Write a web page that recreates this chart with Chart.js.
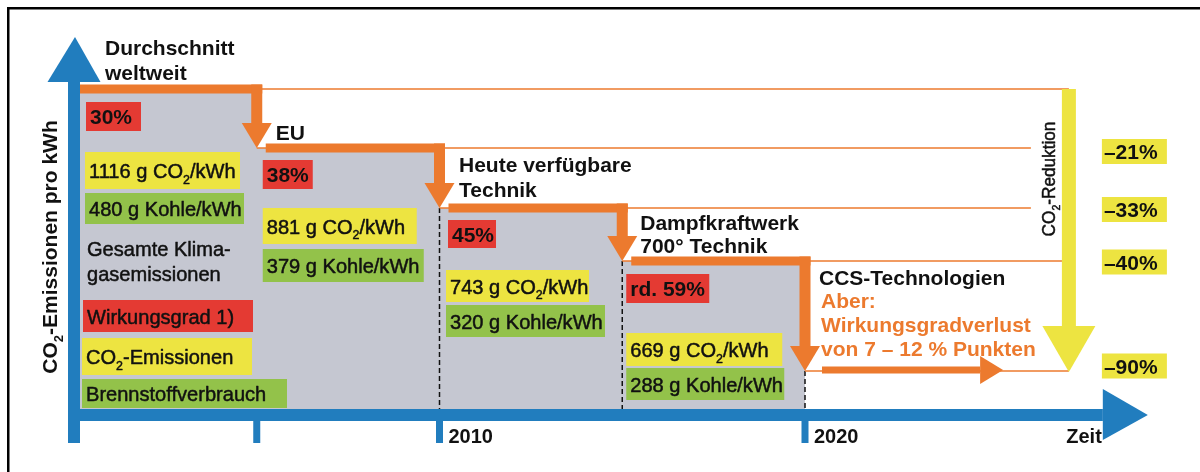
<!DOCTYPE html>
<html><head><meta charset="utf-8">
<script src="https://cdn.jsdelivr.net/npm/chart.js@4.4.1/dist/chart.umd.min.js"></script>
<style>html,body{margin:0;padding:0;background:#fff}#wrap{width:1200px;height:472px;position:relative}</style>
</head><body><div id="wrap"><canvas id="c"></canvas></div>
<script>
// ---------------- DATA ----------------
const stufenTitel   = [['Durchschnitt','weltweit'], ['EU'], ['Heute verfügbare','Technik'], ['Dampfkraftwerk','700° Technik'], ['CCS-Technologien']];
const stufenJahr    = [2000, 2005, 2010, 2015, 2020];          // start of each step on the time axis
const stufenNiveau  = [326, 267, 207, 154, 44];                // schematic height of each step (emission level)
const wirkungsgrad  = ['30%', '38%', '45%', 'rd. 59%'];
const co2ProKWh     = [1116, 881, 743, 669];                   // g CO2 / kWh
const kohleProKWh   = [480, 379, 320, 288];                    // g Kohle / kWh
const reduktion     = ['–21%', '–33%', '–40%', '–90%'];        // vs. world average (steps 2..5)
const ccsHinweis    = ['Aber:', 'Wirkungsgradverlust', 'von 7 – 12 % Punkten'];
const legende       = ['Wirkungsgrad 1)', 'CO_2-Emissionen', 'Brennstoffverbrauch'];
const klimaText     = ['Gesamte Klima-', 'gasemissionen'];
const achsenLabels  = ['2010', '2020'];
const achsenJahre   = [2010, 2020];
const tickJahre     = [2005, 2010, 2020];
const yTitel        = 'CO_2-Emissionen pro kWh';
const reduktionTitel= 'CO_2-Reduktion';
const xTitel        = 'Zeit';
const reduktionJahr = 2027.22;   // position of the yellow reduction arrow on the time axis
const ccsPfeilEnde  = 2025.42;   // end of the CCS arrow
const achsenEnde    = 2029.38;   // tip of the time axis

// ---------------- STYLES / LAYOUT ----------------
const C = { gray:'#C5C7D1', orange:'#EC7A2E', blue:'#217DBE', red:'#E43A33', yellow:'#EDE441', green:'#93C24A', text:'#111' };
const FONT = '"Liberation Sans", Arial, Helvetica, sans-serif';
const L = {
  titel: [{dx:31,dy:[-34,-9]},{dx:19,dy:[-8]},{dx:19.5,dy:[-36,-11]},{dx:18,dy:[-31,-8]},{dx:14,dy:[-86]}],
  wg:    [{dx:12,dy:13,w:55,h:29},{dx:6,dy:12,w:50,h:29},{dx:8.5,dy:12,w:48,h:28},{dx:4,dy:13,w:83,h:29}],
  co2:   [{dx:11,dy:63,w:155,h:37},{dx:6,dy:60,w:154,h:36},{dx:6.5,dy:62,w:143,h:32},{dx:4,dy:72,w:156,h:33}],
  kohle: [{dx:11,dy:104,w:159,h:31},{dx:6,dy:101,w:161,h:33},{dx:6.5,dy:97,w:159,h:32},{dx:4,dy:107,w:158,h:32}],
  legende: [{dx:9,dy:211,w:170,h:32},{dx:8,dy:249,w:170,h:37},{dx:8,dy:290,w:205,h:29}],
  klima: {dx:13, dy:[167,192]},
  hinweis: {dx:16, dy:[-63,-39,-15]},
  red: {dx:33, w:65, h:25, dy:[3.5,1.5,1,-5]}
};

function richParts(str){
  const parts=[]; const a=str.split('_2');
  a.forEach((s,i)=>{ if(s) parts.push({t:s,sub:false}); if(i<a.length-1) parts.push({t:'2',sub:true}); });
  return parts;
}
function drawRich(ctx,str,x,y,size,weight,color,align){
  const parts=richParts(str);
  const normal = weight==='normal';
  const sx = normal ? 0.955 : 1;
  const fm=`${weight} ${size}px ${FONT}`, fs=`${weight} ${Math.round(size*0.62)}px ${FONT}`;
  let w=0; parts.forEach(p=>{ctx.font=p.sub?fs:fm; p.w=ctx.measureText(p.t).width; w+=p.w;});
  w*=sx;
  let cx = align==='center'? x-w/2 : align==='right'? x-w : x;
  ctx.save();
  ctx.translate(cx,y); ctx.scale(sx,1);
  ctx.fillStyle=color; ctx.strokeStyle=color; ctx.lineWidth=0.5; ctx.lineJoin='round';
  ctx.textAlign='left'; ctx.textBaseline='alphabetic';
  let px=0;
  parts.forEach(p=>{ctx.font=p.sub?fs:fm; const yy=p.sub?size*0.27:0; ctx.fillText(p.t,px,yy); if(normal) ctx.strokeText(p.t,px,yy); px+=p.w;});
  ctx.restore();
  return w;
}
function box(ctx,color,x,y,w,h,text,weight){
  ctx.fillStyle=color; ctx.fillRect(x,y,w,h);
  drawRich(ctx,text,x+4,y+h/2+7.5,21,weight,C.text,'left');
}

const infografik = {
  id:'infografik',
  beforeDraw(chart){ const c=chart.ctx; c.save(); c.fillStyle='#fff'; c.fillRect(0,0,chart.width,chart.height); c.restore(); },
  afterDatasetsDraw(chart){
    const ctx=chart.ctx, xs=chart.scales.x, ys=chart.scales.y;
    const X=v=>xs.getPixelForValue(v), Y=v=>ys.getPixelForValue(v);
    const ca=chart.chartArea;
    ctx.save();
    const redX = X(reduktionJahr);

    // thin orange guide lines
    ctx.strokeStyle=C.orange; ctx.lineWidth=1.6;
    stufenNiveau.forEach((lv,i)=>{
      const end = (i===1||i===2) ? redX-38 : redX;
      ctx.beginPath(); ctx.moveTo(X(stufenJahr[i]),Y(lv)); ctx.lineTo(end,Y(lv)); ctx.stroke();
    });

    // thick orange step path with arrowheads
    ctx.fillStyle=C.orange;
    for(let i=0;i<4;i++){
      const x0 = i===0 ? X(stufenJahr[0]) : X(stufenJahr[i])+9;
      const yl = Y(stufenNiveau[i]);
      const x1 = X(stufenJahr[i+1]);
      const yn = Y(stufenNiveau[i+1]);
      ctx.fillRect(x0, yl-4.5, x1+5.5-x0, 9);
      ctx.fillRect(x1-5.5, yl-4.5, 11, (yn-25)-(yl-4.5));
      ctx.beginPath(); ctx.moveTo(x1-15,yn-25); ctx.lineTo(x1+15,yn-25); ctx.lineTo(x1,yn); ctx.closePath(); ctx.fill();
    }
    // CCS arrow
    { const yc=Y(stufenNiveau[4])-1, xa=X(stufenJahr[4])+17, xe=X(ccsPfeilEnde);
      ctx.fillRect(xa, yc-3.5, (xe-23)-xa, 7);
      ctx.beginPath(); ctx.moveTo(xe-23,yc-14); ctx.lineTo(xe,yc); ctx.lineTo(xe-23,yc+14); ctx.closePath(); ctx.fill(); }

    // yellow reduction arrow
    { const yt=Y(stufenNiveau[0]), yb=Y(stufenNiveau[4]);
      ctx.fillStyle=C.yellow;
      ctx.fillRect(redX-7, yt, 14, (yb-45)-yt);
      ctx.beginPath(); ctx.moveTo(redX-26.5,yb-45); ctx.lineTo(redX+26.5,yb-45); ctx.lineTo(redX,yb+1); ctx.closePath(); ctx.fill(); }
    // rotated reduction title
    ctx.save(); ctx.translate(redX-14, 179); ctx.rotate(-Math.PI/2);
    drawRich(ctx,reduktionTitel,0,0,18,'normal',C.text,'center'); ctx.restore();

    // reduction labels
    reduktion.forEach((t,k)=>{
      const yc=Y(stufenNiveau[k+1])+L.red.dy[k];
      const bx=redX+L.red.dx, by=yc-L.red.h/2;
      ctx.fillStyle=C.yellow; ctx.fillRect(bx,by,L.red.w,L.red.h);
      drawRich(ctx,t,bx+2,yc+7.5,21,'bold',C.text,'left');
    });

    // blue axes
    const ax0=X(stufenJahr[0]), ay0=Y(0);
    ctx.fillStyle=C.blue;
    ctx.fillRect(ax0-6, ca.top+47, 12, (ay0+28)-(ca.top+47));
    ctx.beginPath(); ctx.moveTo(ax0-26.5,ca.top+47); ctx.lineTo(ax0+26.5,ca.top+47); ctx.lineTo(ax0+1,ca.top+2); ctx.closePath(); ctx.fill();
    const tipX=X(achsenEnde);
    ctx.fillRect(ax0-6, ay0-6, (tipX-45)-(ax0-6), 12);
    ctx.beginPath(); ctx.moveTo(tipX-45,ay0-26); ctx.lineTo(tipX,ay0); ctx.lineTo(tipX-45,ay0+25); ctx.closePath(); ctx.fill();
    tickJahre.forEach(j=>{ ctx.fillRect(X(j)-3.5, ay0+6, 7, 22); });
    achsenLabels.forEach((t,k)=>{ drawRich(ctx,t,X(achsenJahre[k])+9,ay0+28,20,'bold',C.text,'left'); });
    drawRich(ctx,xTitel,tipX-46,ay0+28,20,'bold',C.text,'right');
    // y title
    ctx.save(); ctx.translate(ax0-17, 247); ctx.rotate(-Math.PI/2);
    drawRich(ctx,yTitel,0,0,21,'bold',C.text,'center'); ctx.restore();

    // column labels
    stufenTitel.forEach((lines,i)=>{
      const axp=X(stufenJahr[i]), ayp=Y(stufenNiveau[i]);
      lines.forEach((ln,k)=>drawRich(ctx,ln,axp+L.titel[i].dx,ayp+L.titel[i].dy[k],21,'bold',C.text,'left'));
    });
    for(let i=0;i<4;i++){
      const axp=X(stufenJahr[i]), ayp=Y(stufenNiveau[i]);
      let b=L.wg[i];    box(ctx,C.red,axp+b.dx,ayp+b.dy,b.w,b.h,wirkungsgrad[i],'bold');
      b=L.co2[i];       box(ctx,C.yellow,axp+b.dx,ayp+b.dy,b.w,b.h,`${co2ProKWh[i]} g CO_2/kWh`,'normal');
      b=L.kohle[i];     box(ctx,C.green,axp+b.dx,ayp+b.dy,b.w,b.h,`${kohleProKWh[i]} g Kohle/kWh`,'normal');
    }
    { const axp=X(stufenJahr[0]), ayp=Y(stufenNiveau[0]);
      klimaText.forEach((t,k)=>drawRich(ctx,t,axp+L.klima.dx,ayp+L.klima.dy[k],21,'normal',C.text,'left'));
      const cols=[C.red,C.yellow,C.green];
      legende.forEach((t,k)=>{ const b=L.legende[k]; box(ctx,cols[k],axp+b.dx,ayp+b.dy,b.w,b.h,t,'normal'); });
    }
    { const axp=X(stufenJahr[4]), ayp=Y(stufenNiveau[4]);
      ccsHinweis.forEach((t,k)=>drawRich(ctx,t,axp+L.hinweis.dx,ayp+L.hinweis.dy[k],21,'bold',C.orange,'left')); }

    // frame
    ctx.fillStyle='#000'; ctx.fillRect(7,7,chart.width-7,2.5); ctx.fillRect(7,7,2.5,chart.height-7);
    ctx.restore();
  }
};

// gray emission area: explicit corner points of the step outline
const grauPunkte = [];
for(let i=0;i<4;i++){
  grauPunkte.push({x:stufenJahr[i],y:stufenNiveau[i]});
  grauPunkte.push({x:stufenJahr[i+1],y:stufenNiveau[i]});
}
const grau = { data: grauPunkte, fill:'origin', backgroundColor:C.gray, borderWidth:0, pointRadius:0, tension:0, order:2 };
const gestrichelt = [2,3,4].map(i=>({
  data:[{x:stufenJahr[i],y:stufenNiveau[i]},{x:stufenJahr[i],y:0}],
  borderColor:'#111', borderWidth:1.5, borderDash:[5,3], pointRadius:0, fill:false, order:1
}));

new Chart(document.getElementById('c'),{
  type:'line',
  data:{datasets:[grau,...gestrichelt]},
  options:{
    responsive:true, maintainAspectRatio:false, animation:false, events:[],
    layout:{padding:{left:74,right:29.5,top:35,bottom:57}},
    plugins:{legend:{display:false},tooltip:{enabled:false}},
    scales:{x:{type:'linear',min:2000,max:2030,display:false},y:{type:'linear',min:0,max:380,display:false}}
  },
  plugins:[infografik]
});
</script></body></html>
